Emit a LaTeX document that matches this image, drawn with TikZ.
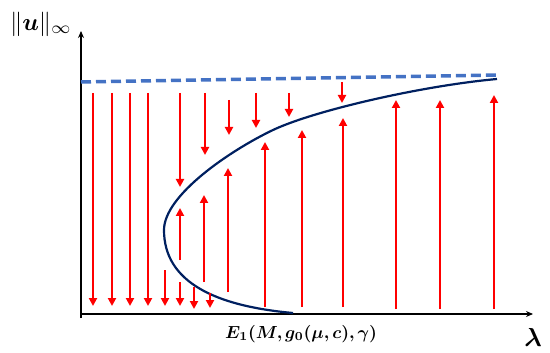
\documentclass[tikz,border=0pt]{standalone}
\usepackage{amsmath,amssymb,bm}
\usepackage{graphicx}
\usepackage{tikz}
\usetikzlibrary{arrows.meta}
\definecolor{curveblue}{RGB}{0,32,96}
\definecolor{dashblue}{RGB}{68,114,196}
\tikzset{flow/.style={red, line width=2pt, -{Triangle[length=8pt,width=8pt]}}}

\begin{document}
\begin{tikzpicture}[x=1pt,y=-1pt]
        \useasboundingbox (0,0) rectangle (550,353);
        % Draw axes
        \draw[line width=1.3pt,-{Stealth[length=7pt,width=6pt]}] (81,318) -- (81,31);
        \draw[line width=1.3pt,-{Stealth[length=7pt,width=6pt]}] (80,314) -- (533,314);
        
        % Add labels
        \node (norm) at (41,24) {\scalebox{2.45}{$\|\bm{u}\|_{\infty}$}};
        \node (lam) at (533,337) {\scalebox{2.6}{$\bm{\lambda}$}};
        \node (crit) at (301,334) {\scalebox{1.75}{$\bm{E_1(M,g_0(\mu,c),\gamma)}$}};
        
        % Upper bound
        \draw[dashblue, line width=3.5pt, dash pattern=on 10pt off 5pt] (81,82) -- (497,75);
        
        % Solution branch
        \draw[curveblue, line width=2.2pt] (293,313) .. controls (215,306) and (164,282) .. (164,230)
            .. controls (164,195) and (231,150) .. (273,130)
            .. controls (313,111) and (420,86) .. (497,79);
        
        % Arrows going down
        \foreach \x/\a/\b in {93/93/306, 112/93/306, 130/93/306, 148/93/306, 180/93/187, 205/93/155, 229/100/135, 256/93/128, 289/93/117, 342/82/103, 165/270/306, 180/282/306, 194/287/309, 210/293/308}
            \draw[flow] (\x,\a) -- (\x,\b);
        
        % Arrows going up
        \foreach \x/\a/\b in {180/260/208, 204/282/195, 228/292/168, 265/307/142, 302/307/130, 343/307/118, 396/309/100, 440/309/100, 494/309/95}
            \draw[flow] (\x,\a) -- (\x,\b);
    \end{tikzpicture}
\end{document}
